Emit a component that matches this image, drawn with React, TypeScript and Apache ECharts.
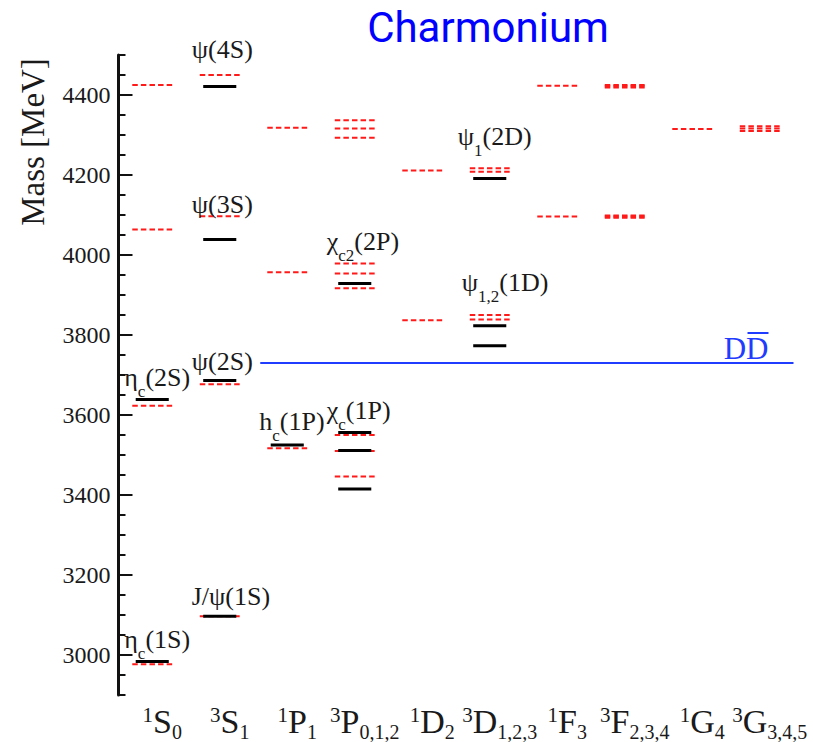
import React, { useEffect, useRef } from 'react';
import * as echarts from 'echarts';

// ---------- data ----------
const columnSup = ['1', '3', '1', '3', '1', '3', '1', '3', '1', '3'];
const columnLetter = ['S', 'S', 'P', 'P', 'D', 'D', 'F', 'F', 'G', 'G'];
const columnSub = ['0', '1', '1', '0,1,2', '2', '1,2,3', '3', '2,3,4', '4', '3,4,5'];

// experimental states (black solid)
const expCols = [0, 0, 1, 1, 1, 1, 2, 3, 3, 3, 3, 5, 5, 5];
const expMasses = [2984, 3639, 3097, 3686, 4039, 4421, 3525, 3415, 3511, 3556, 3929, 3773, 3823, 4191];

// model predictions (red dashed)
const modelCols = [
  0, 0, 0, 0,
  1, 1, 1, 1,
  2, 2, 2,
  3, 3, 3, 3, 3, 3, 3, 3, 3,
  4, 4,
  5, 5, 5, 5,
  6, 6,
  7, 7, 7, 7, 7, 7,
  8,
  9, 9, 9,
];
const modelMasses = [
  2977, 3623, 4064, 4425,
  3097, 3677, 4097, 4450,
  3517, 3957, 4318,
  3446, 3510, 3550, 3917, 3954, 3979, 4293, 4316, 4337,
  3837, 4211,
  3839, 3850, 4208, 4217,
  4096, 4423,
  4093, 4096, 4099, 4419, 4422, 4425,
  4315,
  4310, 4316, 4322,
];

// DD-bar threshold
const ddThreshold = 3730;

// named states
const stateText = [
  '{m|η}{s|c}{m|(1S)}',
  '{m|η}{s|c}{m|(2S)}',
  '{m|J/ψ(1S)}',
  '{m|ψ(2S)}',
  '{m|ψ(3S)}',
  '{m|ψ(4S)}',
  '{m|h}{s|c}{m|(1P)}',
  '{m|χ}{s|c}{m|(1P)}',
  '{m|χ}{s|c2}{m|(2P)}',
  '{m|ψ}{s|1}{m|(2D)}',
  '{m|ψ}{s|1,2}{m|(1D)}',
];
const stateCols = [0, 0, 1, 1, 1, 1, 2, 3, 3, 5, 5];
const stateMasses = [2984, 3639, 3097, 3686, 4039, 4421, 3525, 3556, 3929, 4191, 3821];

const yTickLabels = [3000, 3200, 3400, 3600, 3800, 4000, 4200, 4400];

// ---------- layout / style (not data) ----------
const labelDx = [-28, -28, -28, -28, -28, -28, -28, -28, -28, -32, -28];
const labelDy = [-22, -22, -20, -19, -35, -37, -24, -22, -42, -42, -44];

const SERIF = "'Liberation Serif', 'Times New Roman', serif";
const RED = '#ff1a1a';
const BLUE = '#1f3cff';
const EXP_HALF = 0.245;
const MODEL_HALF = 0.296;

const levelRich = {
  m: { fontFamily: SERIF, fontSize: 26, lineHeight: 26, verticalAlign: 'top', color: '#1a1a1a' },
  s: { fontFamily: SERIF, fontSize: 17, lineHeight: 54, verticalAlign: 'middle', color: '#1a1a1a' },
};

function levelRenderer(half: number, style: any) {
  return (params: any, api: any) => {
    const x = api.value(0);
    const m = api.value(1);
    const a = api.coord([x - half, m]);
    const b = api.coord([x + half, m]);
    return {
      type: 'line',
      shape: { x1: a[0], y1: a[1], x2: b[0], y2: b[1] },
      style,
    };
  };
}

export default function App() {
  const ref = useRef<HTMLDivElement>(null);

  useEffect(() => {
    const chart = echarts.init(ref.current!, null, { renderer: 'svg' });

    const option: any = {
      animation: false,
      backgroundColor: '#ffffff',
      grid: { left: 118.5, right: 19.5, top: 55, bottom: 47, containLabel: false, outerBoundsMode: 'none' },
      xAxis: [
        { type: 'value', min: -0.5, max: 9.5, show: false },
        {
          type: 'category',
          position: 'bottom',
          data: columnSup.map((s, i) => `{sup|${s}}{m|${columnLetter[i]}}{sub|${columnSub[i]}}`),
          boundaryGap: true,
          axisLine: { show: false },
          axisTick: { show: false },
          splitLine: { show: false },
          axisLabel: {
            interval: 0,
            margin: 9,
            padding: [0, 0, 0, 20],
            formatter: (v: string) => v,
            rich: {
              sup: { fontFamily: SERIF, fontSize: 21, lineHeight: 11, verticalAlign: 'top', color: '#1a1a1a' },
              m: { fontFamily: SERIF, fontSize: 34, lineHeight: 28, verticalAlign: 'top', color: '#1a1a1a' },
              sub: { fontFamily: SERIF, fontSize: 20, lineHeight: 16, padding: [18, 0, 0, 0], verticalAlign: 'top', color: '#1a1a1a' },
            },
          },
        },
      ],
      yAxis: [
        {
          type: 'value',
          min: 2900,
          max: 4500,
          interval: 50,
          axisLine: { show: true, onZero: false, lineStyle: { color: '#111', width: 3 } },
          axisTick: { show: true, inside: true, length: 7, lineStyle: { color: '#111', width: 2 } },
          splitLine: { show: false },
          axisLabel: {
            margin: 8,
            fontFamily: SERIF,
            fontSize: 24,
            color: '#1a1a1a',
            formatter: (v: number) => (yTickLabels.indexOf(v) >= 0 ? String(v) : ''),
          },
        },
        {
          type: 'value',
          min: 2900,
          max: 4500,
          interval: 50,
          position: 'left',
          offset: 0,
          axisLine: { show: false, onZero: false },
          axisTick: { show: true, inside: true, length: 14, customValues: yTickLabels, lineStyle: { color: '#111', width: 2 } },
          axisLabel: { show: false },
          splitLine: { show: false },
        },
      ],
      graphic: [
        {
          type: 'text',
          x: 488,
          y: 27.5,
          style: {
            text: 'Charmonium',
            font: '42px Roboto',
            fill: '#0000ff',
            textAlign: 'center',
            textVerticalAlign: 'middle',
            align: 'center',
            verticalAlign: 'middle',
          },
        },
        {
          type: 'text',
          x: 33,
          y: 142,
          rotation: Math.PI / 2,
          style: {
            text: 'Mass [MeV]',
            font: `33px ${SERIF}`,
            fill: '#1a1a1a',
            textAlign: 'center',
            textVerticalAlign: 'middle',
            align: 'center',
            verticalAlign: 'middle',
          },
        },
      ],
      series: [
        {
          type: 'custom',
          name: 'model',
          xAxisIndex: 0,
          yAxisIndex: 0,
          encode: { x: 0, y: 1 },
          data: modelCols.map((c, i) => [c, modelMasses[i]]),
          renderItem: levelRenderer(MODEL_HALF, { stroke: RED, lineWidth: 2, lineDash: [5.5, 3.1] }),
          z: 2,
        },
        {
          type: 'custom',
          name: 'experiment',
          xAxisIndex: 0,
          yAxisIndex: 0,
          encode: { x: 0, y: 1 },
          data: expCols.map((c, i) => [c, expMasses[i]]),
          renderItem: levelRenderer(EXP_HALF, { stroke: '#000', lineWidth: 3 }),
          z: 3,
        },
        {
          type: 'custom',
          name: 'threshold',
          xAxisIndex: 0,
          yAxisIndex: 0,
          encode: { x: 0, y: 1 },
          data: [[1.6, ddThreshold, 9.5]],
          renderItem: (params: any, api: any) => {
            const a = api.coord([api.value(0), api.value(1)]);
            const b = api.coord([api.value(2), api.value(1)]);
            const tx = b[0] - 25;
            return {
              type: 'group',
              children: [
                { type: 'line', shape: { x1: a[0], y1: a[1], x2: b[0], y2: b[1] }, style: { stroke: BLUE, lineWidth: 2 } },
                {
                  type: 'text',
                  x: tx,
                  y: a[1] - 15,
                  style: {
                    text: 'DD',
                    font: `31px ${SERIF}`,
                    fill: BLUE,
                    textAlign: 'right',
                    textVerticalAlign: 'middle',
                    align: 'right',
                    verticalAlign: 'middle',
                  },
                },
                { type: 'line', shape: { x1: tx - 21, y1: a[1] - 30, x2: tx, y2: a[1] - 30 }, style: { stroke: BLUE, lineWidth: 2 } },
              ],
            };
          },
          z: 4,
        },
        {
          type: 'custom',
          name: 'labels',
          xAxisIndex: 0,
          yAxisIndex: 0,
          encode: { x: 0, y: 1 },
          data: stateCols.map((c, i) => [c, stateMasses[i]]),
          renderItem: (params: any, api: any) => {
            const i = params.dataIndex;
            const p = api.coord([api.value(0), api.value(1)]);
            return {
              type: 'text',
              x: p[0] + labelDx[i],
              y: p[1] + labelDy[i] - 13,
              style: {
                text: stateText[i],
                rich: levelRich,
                fontFamily: SERIF,
                fontSize: 26,
                fill: '#1a1a1a',
                textAlign: 'left',
                textVerticalAlign: 'top',
                align: 'left',
                verticalAlign: 'top',
              },
            };
          },
          z: 5,
        },
      ],
    };

    chart.setOption(option);
    return () => chart.dispose();
  }, []);

  return (
    <div
      ref={ref}
      style={{ position: 'fixed', left: 0, top: 0, width: 813, height: 742, background: '#fff' }}
    />
  );
}
